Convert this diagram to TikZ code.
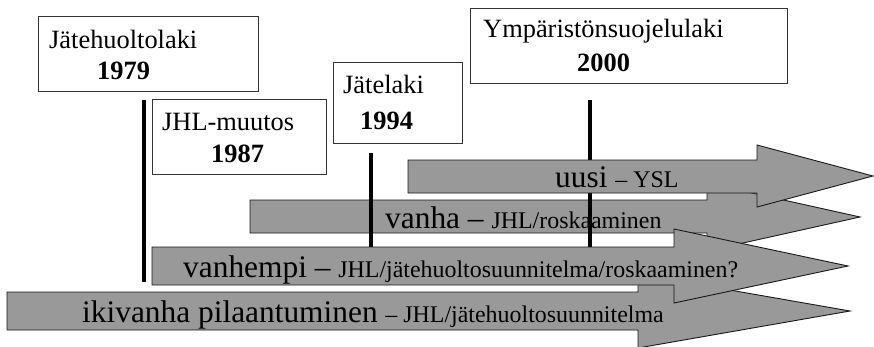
\documentclass[tikz,border=0pt]{standalone}
\usepackage{fontspec}
\setmainfont{Liberation Serif}
\definecolor{bandgray}{RGB}{153,153,153}
\newcommand\bandbig{\fontsize{31.5}{34}\selectfont}
\newcommand\bandsmall{\fontsize{24}{28}\selectfont}
\begin{document}
\begin{tikzpicture}[x=1bp,y=-1bp,
  band/.style={fill=bandgray, draw=black!90, line width=0.9bp, line join=miter},
  lawbox/.style={draw=black!80, fill=white, line width=0.9bp, inner sep=0pt,
    anchor=north west},
  lawtext/.style={inner sep=0pt, anchor=base west, font=\fontsize{26.5}{30}\selectfont},
  yeartext/.style={inner sep=0pt, anchor=base west, font=\fontsize{26.5}{30}\selectfont\bfseries},
  bandtext/.style={inner sep=0pt, anchor=base west},
  timeline/.style={draw=black, line width=3.8bp}]
\clip (0,0) rectangle (874,346);
\fill[white] (0,0) rectangle (874,346);

% law boxes
\node[lawbox, minimum width=220bp, minimum height=75bp] (box1) at (38,16) {};
\node[lawbox, minimum width=174bp, minimum height=75bp] (box2) at (152,99) {};
\node[lawbox, minimum width=129bp, minimum height=81bp] (box3) at (333,62) {};
\node[lawbox, minimum width=317bp, minimum height=75bp] (box4) at (470,8) {};

\node[lawtext]  (law1)  at (49,48)   {Jätehuoltolaki};
\node[yeartext] (year1) at (97,79)   {1979};
\node[lawtext]  (law2)  at (162,130) {JHL-muutos};
\node[yeartext] (year2) at (211,162) {1987};
\node[lawtext]  (law3)  at (343,93)  {Jätelaki};
\node[yeartext] (year3) at (360,129) {1994};
\node[lawtext]  (law4)  at (483,37)  {Ympäristönsuojelulaki};
\node[yeartext] (year4) at (577,71)  {2000};

% timeline markers
\coordinate (m1top) at (144,100); \coordinate (m1bot) at (144,282);
\coordinate (m2top) at (371,153); \coordinate (m2bot) at (371,247);
\coordinate (m3top) at (590,100); \coordinate (m3bot) at (590,247);

% oldest band
\draw[band] (7,292) -- (638,292) -- (638,274) -- (850,311) -- (638,348)
  -- (638,330) -- (7,330) -- cycle;
\node[bandtext] (ikivanha) at (82,322)
  {\bandbig ikivanha pilaantuminen {\bandsmall – JHL/jätehuoltosuunnitelma}};

% old band
\draw[band] (250,200) -- (707,200) -- (707,183) -- (860,217) -- (707,251)
  -- (707,233) -- (250,233) -- cycle;
\node[bandtext] (vanha) at (385,228)
  {\bandbig vanha – {\bandsmall JHL/roskaaminen}};

\draw[timeline] (m2top) -- (m2bot);
\draw[timeline] (m3top) -- (m3bot);

% new band
\draw[band] (408,160) -- (757,160) -- (757,145) -- (873,176) -- (757,207)
  -- (757,193) -- (408,193) -- cycle;
\node[bandtext] (uusi) at (555,187)
  {\bandbig uusi {\bandsmall – YSL}};

% older band
\draw[band] (152,247) -- (674,247) -- (674,229) -- (848,266) -- (674,303)
  -- (674,285) -- (152,285) -- cycle;
\node[bandtext] (vanhempi) at (183,277)
  {\bandbig vanhempi – {\bandsmall JHL/jätehuoltosuunnitelma/roskaaminen?}};

\draw[timeline] (m1top) -- (m1bot);
\end{tikzpicture}
\end{document}
